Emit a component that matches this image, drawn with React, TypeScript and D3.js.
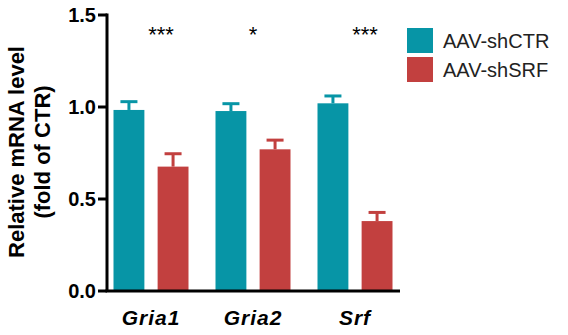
import * as d3 from 'd3';

const genes = ['Gria1', 'Gria2', 'Srf'];
const series = ['AAV-shCTR', 'AAV-shSRF'];
const ctrMean = [0.984, 0.978, 1.02];
const ctrSem = [0.045, 0.04, 0.04];
const srfMean = [0.676, 0.77, 0.38];
const srfSem = [0.07, 0.05, 0.047];
const stars = ['***', '*', '***'];
const yTicks = [0, 0.5, 1.0, 1.5];

const colors = ['#0795a6', '#c2403f'];
const font = 'Liberation Sans, Arial, sans-serif';

export default function App() {
    const width = 568;
    const height = 335;

    const y = d3.scaleLinear().domain([0, 1.5]).range([291, 15]);
    const x = d3.scaleBand().domain(genes).range([100, 406]);
    const sub = d3.scaleBand().domain(series).range([0, 75]).paddingInner(0.3).paddingOuter(0);
    const groupLeft = (g: string) => x(g)! + x.bandwidth() / 2 - 37.5;

    const means = [ctrMean, srfMean];
    const sems = [ctrSem, srfSem];

    const bars = genes.flatMap((g, i) =>
        series.map((s, j) => ({
            gene: g,
            s,
            j,
            mean: means[j][i],
            sem: sems[j][i],
            x0: groupLeft(g) + sub(s)!,
        }))
    );

    return (
        <svg width={width} height={height} style={{ position: 'absolute', left: 0, top: 0, background: '#fff' }}>
            {bars.map(b => {
                const cx = b.x0 + sub.bandwidth() / 2;
                return (
                    <g key={b.gene + b.s}>
                        <line x1={cx} x2={cx} y1={y(b.mean)} y2={y(b.mean + b.sem)} stroke={colors[b.j]} strokeWidth={3} />
                        <line x1={cx - 8.5} x2={cx + 8.5} y1={y(b.mean + b.sem)} y2={y(b.mean + b.sem)} stroke={colors[b.j]} strokeWidth={3} />
                        <rect x={b.x0} y={y(b.mean)} width={sub.bandwidth()} height={y(0) - y(b.mean)} fill={colors[b.j]} />
                    </g>
                );
            })}

            {/* y axis */}
            <line x1={107} x2={107} y1={y(1.5) - 1.5} y2={y(0)} stroke="#000" strokeWidth={3} />
            {yTicks.map(t => (
                <g key={t}>
                    <line x1={98} x2={107} y1={y(t)} y2={y(t)} stroke="#000" strokeWidth={3} />
                    <text x={96} y={y(t)} dy="0.36em" textAnchor="end" fontFamily={font} fontWeight="bold" fontSize={20} fill="#000">
                        {d3.format('.1f')(t)}
                    </text>
                </g>
            ))}

            {/* x axis */}
            <line x1={105.5} x2={400} y1={y(0)} y2={y(0)} stroke="#000" strokeWidth={3} />
            {genes.map(g => (
                <text key={g} x={x(g)! + x.bandwidth() / 2} y={325} textAnchor="middle" fontFamily={font} fontWeight="bold" fontStyle="italic" fontSize={21} letterSpacing={1} fill="#000">
                    {g}
                </text>
            ))}

            {genes.map((g, i) => (
                <text key={'s' + g} x={x(g)! + x.bandwidth() / 2 + (stars[i].length > 1 ? 10 : 0)} y={42} textAnchor="middle" fontFamily={font} fontSize={22} fill="#000">
                    {stars[i]}
                </text>
            ))}

            <text transform="translate(24,152) rotate(-90)" textAnchor="middle" fontFamily={font} fontWeight="bold" fontSize={22} fill="#000">
                Relative mRNA level
            </text>
            <text transform="translate(50,152) rotate(-90)" textAnchor="middle" fontFamily={font} fontWeight="bold" fontSize={22} fill="#000">
                (fold of CTR)
            </text>

            {series.map((s, j) => (
                <g key={s} transform={`translate(407,${28 + j * 29})`}>
                    <rect width={26} height={25} fill={colors[j]} />
                    <text x={36} y={12.5} dy="0.36em" fontFamily={font} fontSize={20} fill="#222">
                        {s}
                    </text>
                </g>
            ))}
        </svg>
    );
}
